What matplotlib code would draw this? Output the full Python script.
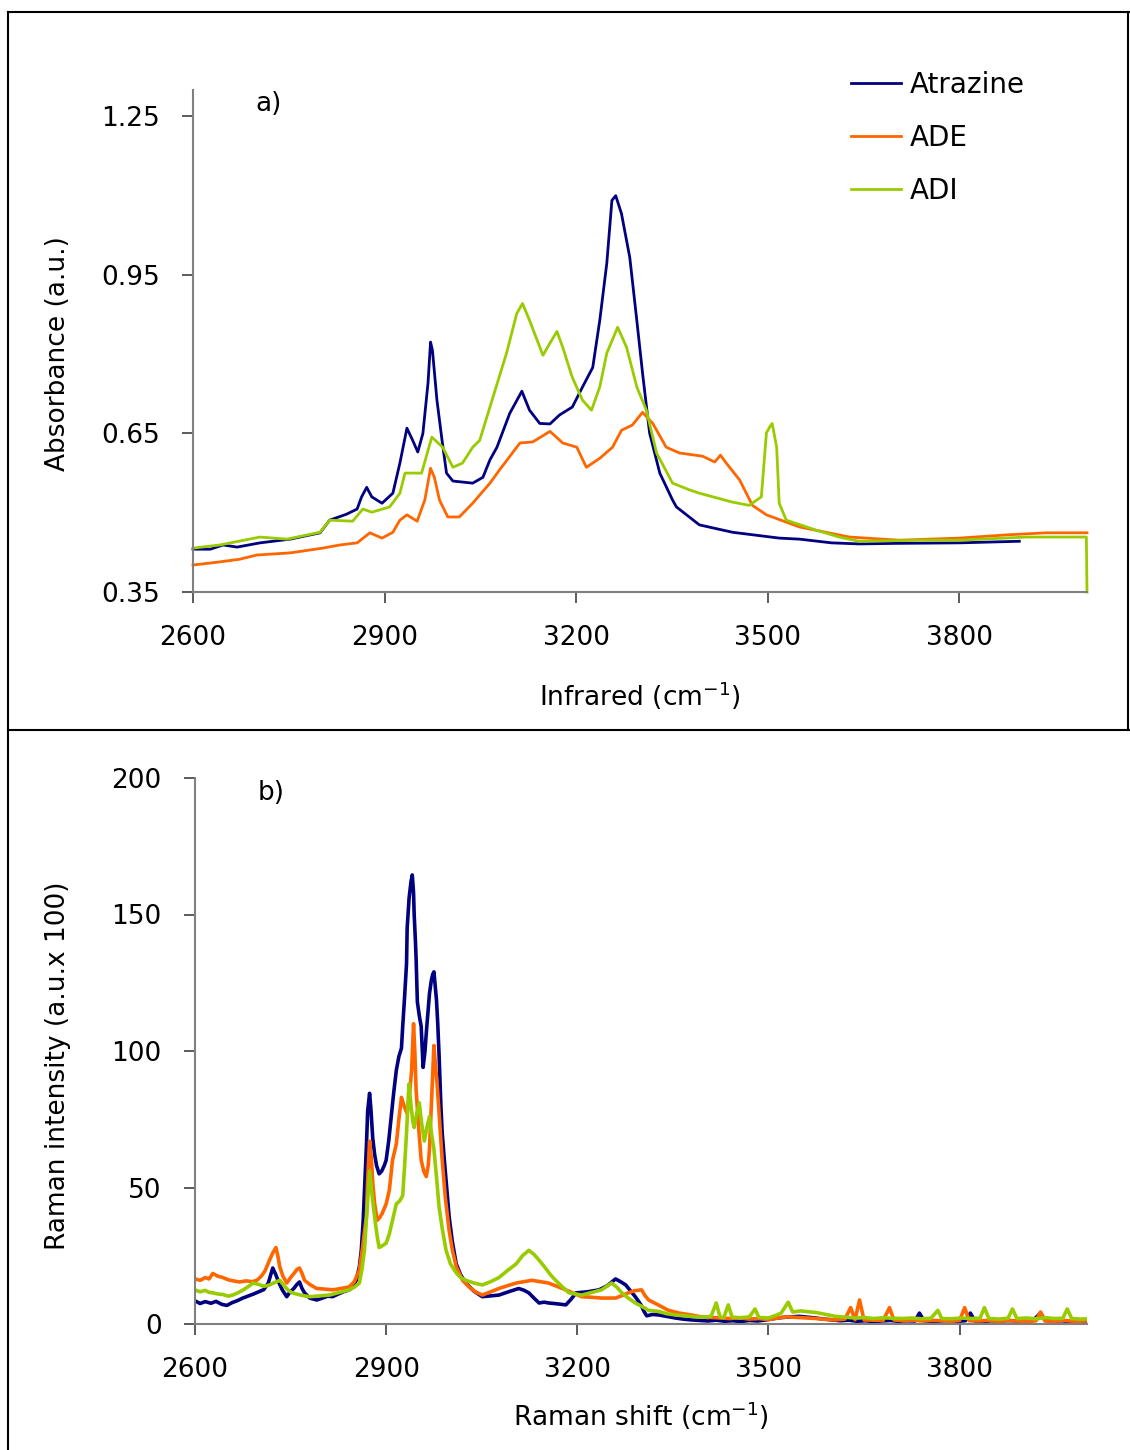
import matplotlib
matplotlib.use("Agg")
import matplotlib.pyplot as plt
from matplotlib.lines import Line2D
import numpy as np

plt.rcParams['font.family'] = ['DejaVu Sans']
plt.rcParams['mathtext.default'] = 'regular'

NAMES = ['Atrazine', 'ADE', 'ADI']
COLORS = {'Atrazine': '#000080', 'ADE': '#FF6600', 'ADI': '#99CC00'}

# infrared absorbance spectra (wavenumber, absorbance)
ir_atrazine_x = [2600, 2627, 2647, 2669, 2705, 2752, 2799, 2814, 2840, 2857, 2864, 2872, 2880, 2896,
                 2913, 2924, 2935, 2944, 2952, 2960, 2968, 2972, 2975, 2982, 2990, 2997, 3007, 3038,
                 3054, 3065, 3076, 3096, 3115, 3127, 3143, 3159, 3174, 3194, 3210, 3226, 3237, 3248,
                 3256, 3262, 3271, 3284, 3295, 3304, 3315, 3331, 3351, 3357, 3393, 3445, 3518, 3550,
                 3600, 3643, 3700, 3800, 3894]
ir_atrazine_y = [0.431, 0.431, 0.439, 0.435, 0.443, 0.450, 0.462, 0.486, 0.497, 0.507, 0.530, 0.548,
                 0.530, 0.518, 0.537, 0.594, 0.660, 0.637, 0.615, 0.650, 0.745, 0.823, 0.807, 0.713,
                 0.637, 0.575, 0.560, 0.556, 0.567, 0.600, 0.624, 0.688, 0.730, 0.694, 0.669, 0.668,
                 0.685, 0.700, 0.738, 0.775, 0.864, 0.972, 1.091, 1.100, 1.066, 0.983, 0.864, 0.764,
                 0.651, 0.575, 0.524, 0.511, 0.477, 0.463, 0.452, 0.450, 0.443, 0.441, 0.442, 0.443,
                 0.446]

ir_ade_x = [2600, 2642, 2673, 2700, 2752, 2803, 2830, 2857, 2877, 2896, 2913, 2924, 2935, 2951, 2963,
            2972, 2978, 2986, 2999, 3017, 3038, 3065, 3080, 3112, 3132, 3159, 3179, 3201, 3216, 3237,
            3257, 3271, 3288, 3304, 3320, 3341, 3362, 3398, 3417, 3426, 3435, 3456, 3476, 3498, 3550,
            3628, 3706, 3800, 3873, 3936, 4000]
ir_ade_y = [0.401, 0.407, 0.412, 0.420, 0.424, 0.433, 0.439, 0.443, 0.462, 0.452, 0.463, 0.486, 0.496,
            0.484, 0.524, 0.584, 0.567, 0.524, 0.492, 0.492, 0.518, 0.556, 0.581, 0.632, 0.634, 0.654,
            0.632, 0.624, 0.586, 0.603, 0.624, 0.656, 0.666, 0.690, 0.669, 0.624, 0.613, 0.607, 0.596,
            0.609, 0.594, 0.562, 0.514, 0.496, 0.473, 0.454, 0.448, 0.452, 0.458, 0.462, 0.462]

ir_adi_x = [2600, 2642, 2705, 2747, 2799, 2814, 2850, 2866, 2880, 2908, 2924, 2932, 2958, 2968, 2974,
            2991, 3007, 3022, 3038, 3049, 3065, 3091, 3107, 3116, 3127, 3148, 3159, 3170, 3179, 3194,
            3210, 3224, 3237, 3248, 3265, 3279, 3295, 3310, 3326, 3351, 3378, 3393, 3445, 3471, 3490,
            3498, 3503, 3507, 3514, 3518, 3529, 3576, 3612, 3643, 3742, 3800, 3905, 3999, 4000]
ir_adi_y = [0.433, 0.439, 0.454, 0.450, 0.463, 0.486, 0.484, 0.507, 0.501, 0.511, 0.537, 0.575, 0.575,
            0.618, 0.643, 0.624, 0.586, 0.594, 0.624, 0.637, 0.700, 0.802, 0.877, 0.896, 0.864, 0.798,
            0.821, 0.843, 0.813, 0.756, 0.713, 0.694, 0.738, 0.802, 0.851, 0.813, 0.738, 0.694, 0.613,
            0.556, 0.543, 0.537, 0.520, 0.514, 0.530, 0.651, 0.662, 0.669, 0.624, 0.518, 0.486, 0.467,
            0.454, 0.446, 0.448, 0.448, 0.454, 0.454, 0.35]

# Raman spectra (shift, intensity in a.u. x 100)
ra_atrazine_x = [2600, 2608, 2616, 2625, 2633, 2642, 2650, 2658, 2667, 2675, 2683, 2692, 2700, 2708,
                 2715, 2722, 2727, 2731, 2737, 2744, 2749, 2755, 2760, 2764, 2768, 2772, 2780, 2791,
                 2800, 2808, 2816, 2825, 2833, 2842, 2848, 2853, 2858, 2861, 2864, 2866, 2869, 2871,
                 2874, 2876, 2879, 2882, 2885, 2889, 2893, 2897, 2900, 2904, 2908, 2912, 2916, 2920,
                 2924, 2926, 2929, 2932, 2933, 2936, 2939, 2941, 2943, 2944, 2946, 2947, 2949, 2952,
                 2955, 2958, 2961, 2963, 2966, 2968, 2971, 2973, 2975, 2977, 2979, 2981, 2983, 2986,
                 2988, 2991, 2995, 2999, 3004, 3010, 3017, 3025, 3038, 3051, 3064, 3077, 3092, 3108,
                 3116, 3124, 3132, 3140, 3148, 3155, 3168, 3182, 3190, 3198, 3216, 3234, 3247, 3260,
                 3268, 3276, 3284, 3291, 3300, 3305, 3309, 3318, 3328, 3340, 3354, 3366, 3379, 3392,
                 3405, 3418, 3431, 3444, 3457, 3470, 3483, 3496, 3509, 3522, 3535, 3548, 3561, 3574,
                 3587, 3600, 3613, 3626, 3639, 3652, 3665, 3678, 3691, 3704, 3717, 3730, 3737, 3744,
                 3757, 3770, 3783, 3796, 3809, 3817, 3824, 3837, 3850, 3863, 3876, 3889, 3902, 3915,
                 3927, 3934, 3947, 3960, 3973, 3986, 4000]
ra_atrazine_y = [8.5, 7.5, 8.2, 7.6, 8.3, 7.2, 6.8, 7.8, 8.6, 9.5, 10.2, 11.0, 11.8, 12.6,
                 15, 20.5, 18, 15.5, 12.5, 10, 11.7, 13, 14.5, 15.4, 13, 11.4, 9.5, 8.8,
                 9.5, 10.2, 10, 11, 11.8, 12.5, 13.5, 16, 21, 27, 38, 49, 65, 78,
                 84.5, 79, 68, 62, 58, 55, 56, 58, 60, 67, 76, 85, 93, 98,
                 101, 109, 120, 132, 145, 156, 162, 164.5, 158, 150, 140, 134, 118, 113,
                 109, 94, 100, 106.6, 115, 121, 126, 128, 129, 124, 118.7, 110, 99, 79.5,
                 70, 61, 50, 39, 30, 22, 18, 15, 12, 10, 10.3, 10.6, 11.8, 13,
                 12.4, 11.4, 9.5, 7.7, 8, 7.7, 7.4, 7, 9, 11.4, 11.8, 12.5, 14, 16.5,
                 15.5, 14.3, 12, 10, 7, 4.5, 3, 3.5, 3.3, 2.8, 2.2, 1.8, 1.5, 1.3,
                 1.1, 1.4, 1.0, 1.2, 0.9, 1.3, 1.1, 1.5, 2.0, 2.4, 2.6, 2.8, 2.5, 2.2,
                 1.8, 1.5, 1.2, 1.4, 1.0, 1.2, 0.9, 1.1, 1.3, 1.0, 1.2, 1.1, 4.0, 1.2,
                 0.9, 1.1, 1.3, 1.0, 1.2, 4.0, 1.1, 0.9, 1.2, 1.0, 1.3, 1.1, 0.9, 1.2,
                 4.0, 1.4, 1.0, 1.2, 0.9, 1.1, 1.0]

ra_ade_x = [2600, 2608, 2616, 2622, 2628, 2636, 2644, 2652, 2660, 2670, 2680, 2690, 2697, 2704,
            2710, 2717, 2722, 2727, 2730, 2733, 2738, 2744, 2750, 2756, 2760, 2764, 2768, 2772,
            2780, 2791, 2803, 2816, 2829, 2842, 2850, 2858, 2863, 2866, 2869, 2871, 2874, 2877,
            2879, 2882, 2886, 2890, 2894, 2900, 2905, 2910, 2916, 2920, 2924, 2928, 2933, 2937,
            2940, 2943, 2945, 2947, 2951, 2955, 2959, 2963, 2966, 2968, 2971, 2975, 2977, 2980,
            2984, 2988, 2993, 2999, 3004, 3010, 3020, 3030, 3040, 3051, 3064, 3077, 3090, 3104,
            3116, 3129, 3142, 3155, 3168, 3182, 3195, 3207, 3222, 3238, 3250, 3260, 3270, 3280,
            3290, 3301, 3306, 3312, 3327, 3343, 3360, 3379, 3395, 3410, 3425, 3440, 3455, 3470,
            3485, 3500, 3515, 3530, 3545, 3560, 3575, 3590, 3605, 3620, 3629, 3636, 3643, 3650,
            3665, 3680, 3690, 3697, 3712, 3727, 3742, 3757, 3772, 3787, 3800, 3808, 3815, 3830,
            3845, 3860, 3875, 3890, 3905, 3920, 3927, 3934, 3949, 3964, 3979, 4000]
ra_ade_y = [16.5, 16, 17, 16.5, 18.5, 17.5, 17, 16.2, 15.8, 15.4, 15.8, 15.5, 16, 17.5,
            19.5, 23.4, 26, 28, 25, 21, 17.5, 15, 17, 18.7, 20, 20.5, 18.5, 16,
            14.5, 13, 12.8, 12.5, 13, 13.6, 15.5, 19.8, 28, 34, 39, 53, 67, 60,
            51.6, 44, 38, 39, 40.6, 44, 49, 60, 66, 75, 83, 80, 77, 85,
            93, 110, 100, 86, 72, 60, 56, 54, 58, 64, 80, 102, 96, 88,
            74, 60, 46, 34, 27, 21, 16, 13.6, 11.8, 10.6, 11.8, 13, 14, 15,
            15.5, 16, 15.5, 15, 13.8, 12.5, 11.2, 10, 9.8, 9.5, 9.5, 9.5, 10.4, 11.4,
            12.2, 12.5, 10.5, 8.8, 7, 5, 4, 3.3, 2.6, 2.4, 2.2, 2.0, 2.3, 1.8,
            2.0, 1.6, 2.2, 2.6, 2.4, 2.2, 2.0, 1.7, 1.5, 1.8, 6.0, 1.6, 8.8, 1.5,
            1.4, 1.3, 6.0, 1.5, 1.2, 1.4, 1.1, 1.3, 1.2, 1.0, 1.3, 6.0, 1.2, 1.1,
            1.3, 1.0, 1.2, 1.1, 0.9, 1.2, 4.4, 1.1, 1.0, 1.3, 1.0, 1.1]

ra_adi_x = [2600, 2608, 2616, 2622, 2628, 2636, 2644, 2652, 2659, 2667, 2675, 2683, 2691, 2700,
            2708, 2717, 2725, 2733, 2740, 2747, 2753, 2762, 2770, 2780, 2795, 2811, 2826, 2842,
            2850, 2858, 2862, 2866, 2870, 2874, 2878, 2882, 2886, 2889, 2895, 2900, 2905, 2910,
            2916, 2921, 2926, 2929, 2932, 2934, 2936, 2939, 2942, 2944, 2948, 2952, 2956, 2960,
            2964, 2968, 2971, 2975, 2979, 2983, 2988, 2994, 3001, 3010, 3017, 3025, 3038, 3051,
            3064, 3077, 3090, 3104, 3114, 3124, 3132, 3140, 3150, 3158, 3166, 3177, 3187, 3197,
            3207, 3223, 3238, 3249, 3254, 3262, 3270, 3280, 3291, 3301, 3312, 3328, 3340, 3354,
            3368, 3382, 3396, 3410, 3418, 3424, 3430, 3437, 3443, 3456, 3470, 3479, 3485, 3500,
            3512, 3520, 3531, 3538, 3550, 3562, 3575, 3590, 3605, 3620, 3635, 3650, 3665, 3680,
            3695, 3710, 3725, 3740, 3755, 3766, 3772, 3787, 3802, 3817, 3832, 3839, 3846, 3861,
            3876, 3883, 3890, 3905, 3920, 3935, 3950, 3962, 3969, 3976, 3990, 4000]
ra_adi_y = [12.5, 11.8, 12.3, 11.6, 11.4, 11, 10.8, 10.2, 10.6, 11.4, 12.4, 13.6, 15, 14.5,
            13.8, 14.3, 15.2, 16, 14, 12.2, 11.4, 10.8, 10.4, 10, 10.3, 10.6, 11.5, 12.5,
            13.5, 15, 20, 27, 42, 56, 47, 39, 32, 28, 28.8, 29.6, 33, 38,
            44, 45, 47, 58, 70, 80, 88, 80, 74, 72, 77, 81, 73, 67,
            72, 76, 70, 64, 54, 43, 35, 27, 22, 18.7, 17, 16, 15, 14.3,
            15.5, 17, 19.5, 22, 25, 27, 25.5, 23.4, 20.5, 18, 16, 13.5, 11.4, 11,
            10.6, 11.6, 12.5, 14.2, 15, 13.5, 11.4, 9.5, 7.7, 6.5, 5, 4.6, 3.8, 3.3,
            3.0, 2.7, 2.5, 2.8, 7.7, 2.6, 2.4, 7.0, 2.5, 2.3, 2.6, 5.5, 2.4, 2.2,
            3.2, 4.0, 8.0, 4.4, 4.8, 4.5, 4.2, 3.5, 2.8, 2.5, 2.2, 2.4, 2.0, 2.3,
            2.1, 2.0, 2.2, 1.9, 2.1, 5.0, 2.0, 1.9, 2.2, 2.0, 2.1, 6.0, 2.0, 1.8,
            2.1, 5.5, 2.0, 2.2, 1.9, 2.3, 2.0, 2.1, 5.5, 2.0, 1.8, 1.9]

xticks = [2600, 2900, 3200, 3500, 3800]
ir_yticks = [0.35, 0.65, 0.95, 1.25]
ra_yticks = [0, 50, 100, 150, 200]

FS = 19

fig = plt.figure(figsize=(11.3, 14.5), dpi=100)


def style_axes(ax, yticks, ylim):
    for side in ('top', 'right'):
        ax.spines[side].set_visible(False)
    for side in ('left', 'bottom'):
        ax.spines[side].set_color('#808080')
        ax.spines[side].set_linewidth(1.5)
    ax.set_xlim(2600, 4000)
    ax.set_ylim(*ylim)
    ax.set_xticks(xticks)
    ax.set_yticks(yticks)
    ax.tick_params(direction='out', length=8, width=1.2, color='#404040', labelsize=FS)
    ax.tick_params(axis='y', pad=16)
    ax.tick_params(axis='x', pad=16)


# a) infrared
ax1 = fig.add_axes([193 / 1130, 1 - 592 / 1450, 894 / 1130, 502 / 1450])
ir = {'Atrazine': (ir_atrazine_x, ir_atrazine_y),
      'ADE': (ir_ade_x, ir_ade_y),
      'ADI': (ir_adi_x, ir_adi_y)}
for name in NAMES:
    x, y = ir[name]
    ax1.plot(x, y, color=COLORS[name], lw=2.0, label=name, clip_on=False)
style_axes(ax1, ir_yticks, (0.35, 1.30))
ax1.set_yticklabels(['%.2f' % v for v in ir_yticks])
ax1.set_xlabel('Infrared (cm$^{-1}$)', fontsize=FS, labelpad=20)
ax1.set_ylabel('Absorbance (a.u.)', fontsize=FS)
ax1.yaxis.set_label_coords(-0.1365, 0.474)
ax1.text(0.07, 0.972, 'a)', transform=ax1.transAxes, fontsize=FS, va='center')

handles = [Line2D([0], [0], color=COLORS[n], lw=2) for n in NAMES]
fig.legend(handles, NAMES, loc='upper left', bbox_to_anchor=(851 / 1130, 1 - 71 / 1450),
           frameon=False, fontsize=20, handlelength=1.8, handletextpad=0.3,
           labelspacing=0.9, borderpad=0, borderaxespad=0)

# b) Raman
ax2 = fig.add_axes([195 / 1130, 1 - 1324 / 1450, 892 / 1130, 546 / 1450])
ra = {'Atrazine': (ra_atrazine_x, ra_atrazine_y),
      'ADE': (ra_ade_x, ra_ade_y),
      'ADI': (ra_adi_x, ra_adi_y)}
for name in NAMES:
    x, y = ra[name]
    ax2.plot(x, y, color=COLORS[name], lw=2.6)
style_axes(ax2, ra_yticks, (0, 200))
ax2.set_xlabel('Raman shift (cm$^{-1}$)', fontsize=FS, labelpad=12)
ax2.set_ylabel('Raman intensity (a.u.x 100)', fontsize=FS)
ax2.yaxis.set_label_coords(-0.139, 0.4725)
ax2.text(0.07, 0.973, 'b)', transform=ax2.transAxes, fontsize=FS, va='center')

# panel frames
frame = dict(color='black', lw=1.5, transform=fig.transFigure)
fig.add_artist(Line2D([8 / 1130, 8 / 1130], [0, 1 - 12 / 1450], **frame))
fig.add_artist(Line2D([8 / 1130, 1], [1 - 12 / 1450, 1 - 12 / 1450], **frame))
fig.add_artist(Line2D([8 / 1130, 1], [1 - 730 / 1450, 1 - 730 / 1450], **frame))
fig.add_artist(Line2D([1128 / 1130, 1128 / 1130], [1 - 730 / 1450, 1 - 12 / 1450], **frame))

fig.savefig('out.png', dpi=100)
